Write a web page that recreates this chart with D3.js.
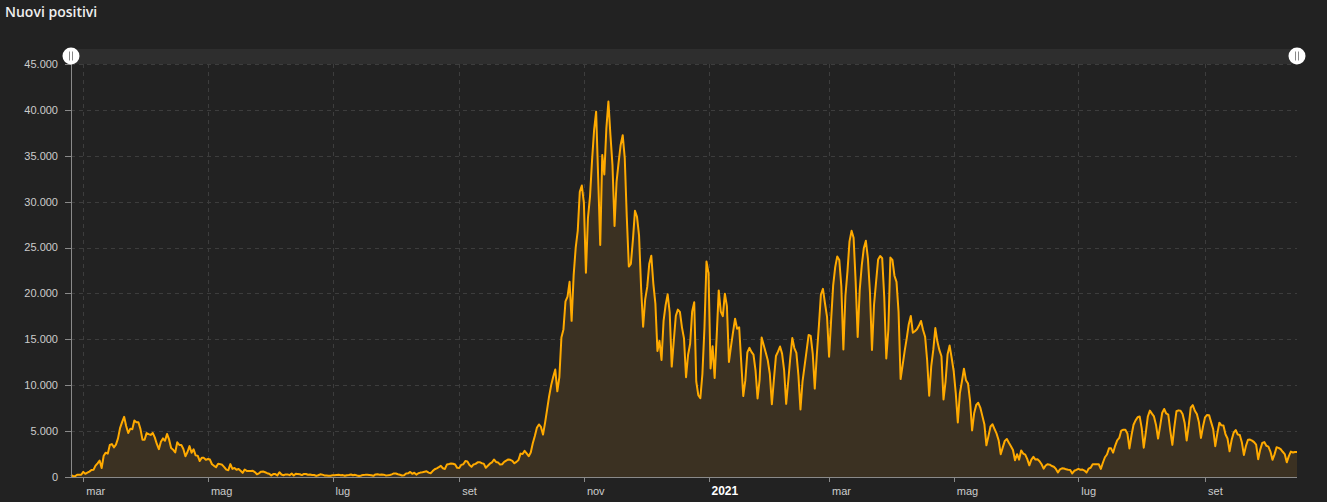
<!DOCTYPE html>
<html>
<head>
<meta charset="utf-8">
<script src="https://cdn.jsdelivr.net/npm/d3@7"></script>
<style>
html, body { margin: 0; padding: 0; background: #222222; }
svg { display: block; }
</style>
</head>
<body>
<svg id="chart" width="1327" height="502"></svg>
<script>
// daily "nuovi positivi", one array per month (first value = first day of the month)
var feb2020 = [221, 93, 78, 250, 238, 240]; // starts 24 feb
var mar2020 = [561, 347, 466, 587, 769, 778, 1247, 1492, 1797, 977, 2313, 2651, 2547, 3497, 3590, 3233, 3526, 4207, 5322, 5986, 6557, 5560, 4789, 5249, 5210, 6153, 5959, 5974, 5217, 4050, 4053];
var apr2020 = [4782, 4668, 4585, 4805, 4316, 3599, 3039, 3836, 4204, 3951, 4694, 4092, 3153, 2972, 2667, 3786, 3493, 3491, 3047, 2256, 2729, 3370, 2646, 3021, 2357, 2324, 1739, 2091, 2086, 1872];
var may2020 = [1965, 1900, 1389, 1221, 1075, 1444, 1401, 1327, 1083, 802, 744, 1402, 888, 992, 789, 875, 675, 451, 813, 665, 642, 652, 669, 531, 300, 397, 584, 593, 516, 416, 355];
var jun2020 = [178, 318, 321, 177, 518, 270, 197, 280, 283, 202, 379, 163, 346, 338, 301, 210, 329, 333, 251, 262, 224, 218, 122, 190, 296, 259, 175, 174, 126, 142];
var jul2020 = [187, 201, 223, 235, 192, 208, 138, 193, 229, 276, 188, 234, 169, 114, 162, 230, 233, 249, 219, 190, 129, 282, 306, 252, 275, 255, 170, 181, 212, 289, 386];
var aug2020 = [379, 295, 239, 159, 190, 384, 402, 552, 347, 463, 259, 412, 481, 523, 574, 629, 479, 403, 642, 845, 947, 1071, 1210, 953, 878, 1367, 1411, 1462, 1444, 1365, 996];
var sep2020 = [978, 1326, 1397, 1733, 1695, 1297, 1108, 1370, 1434, 1597, 1616, 1501, 1458, 1008, 1229, 1452, 1585, 1907, 1638, 1587, 1350, 1392, 1640, 1786, 1912, 1869, 1766, 1494, 1648, 1851];
var oct2020 = [2548, 2499, 2844, 2578, 2257, 2677, 3678, 4458, 5372, 5724, 5456, 4619, 5901, 7332, 8804, 10010, 10925, 11705, 9338, 10874, 15199, 16079, 19143, 19644, 21273, 17012, 21994, 24991, 26831, 31084, 31758];
var nov2020 = [29907, 22253, 28244, 30550, 34505, 37809, 39811, 32616, 25271, 35098, 32961, 37978, 40902, 37255, 33979, 27354, 32191, 34283, 36176, 37242, 34767, 28337, 22930, 23232, 25853, 29003, 28352, 26323, 20648, 16377];
var dec2020 = [19350, 20709, 23225, 24099, 21052, 18887, 13720, 14842, 12756, 16999, 18727, 19903, 17938, 12030, 14844, 17572, 18236, 17992, 16308, 15104, 10872, 13318, 14522, 18040, 19037, 10407, 8913, 8585, 11212, 16202, 23477];
var jan2021 = [22211, 11831, 14245, 10800, 15378, 20331, 18020, 17533, 19978, 18627, 12532, 14242, 15774, 17246, 16146, 16310, 12545, 8825, 10497, 13571, 14078, 13633, 13331, 11629, 8561, 10593, 15204, 14372, 13574, 12715, 11252];
var feb2021 = [7925, 10630, 13189, 13659, 14218, 13442, 11641, 7970, 10404, 12956, 15146, 14049, 13532, 11068, 7351, 10386, 12074, 13762, 15479, 15370, 13452, 9630, 13314, 16424, 19886, 20499, 18916, 17455];
var mar2021 = [13114, 17083, 20884, 22865, 24036, 23641, 20765, 13902, 19749, 22409, 25673, 26824, 26062, 21315, 15267, 20396, 23059, 24935, 25735, 23832, 20159, 13846, 18765, 21267, 23696, 24076, 23839, 19611, 12916, 16017, 23904];
var apr2021 = [23649, 21932, 21261, 18025, 10680, 12200, 13750, 15100, 16650, 17540, 15720, 15880, 16090, 16500, 17000, 16020, 15290, 12694, 8864, 12074, 13844, 16232, 14761, 13817, 13158, 8444, 10404, 13385, 14320, 12965];
var may2021 = [11500, 9148, 5948, 9116, 10404, 11807, 10554, 10176, 8292, 5080, 6946, 7852, 8085, 7567, 6659, 5753, 3455, 4452, 5506, 5741, 5218, 4717, 3995, 2490, 3224, 3937, 4147, 3738, 3351, 2949, 1820];
var jun2021 = [2483, 1896, 2897, 2557, 2436, 1951, 1273, 1896, 2199, 1901, 1925, 1723, 1390, 907, 1255, 1400, 1350, 1197, 1120, 880, 495, 835, 951, 927, 838, 794, 773, 389, 679, 776];
var jul2021 = [882, 794, 808, 700, 480, 907, 1010, 1394, 1390, 1400, 1391, 888, 1553, 2153, 2455, 3121, 3127, 2650, 3400, 4000, 4259, 5057, 5143, 5140, 4743, 3117, 4522, 5696, 6171, 6513, 6599];
var aug2021 = [5321, 3190, 4845, 6596, 7230, 6902, 6599, 5676, 4197, 5512, 6968, 7409, 6921, 6793, 5015, 3500, 5477, 7162, 7260, 7224, 6860, 5922, 3977, 5559, 7548, 7826, 7221, 6860, 5959, 4257, 5498];
var sep2021 = [6503, 6761, 6735, 5951, 5193, 3361, 4720, 5923, 5636, 5621, 4664, 4198, 2800, 4021, 4830, 5117, 4630, 4578, 3795, 2407, 3377, 4061, 4077, 3968, 3797, 3525, 1936, 2985, 3706, 3804];
var oct2021 = [3405, 3312, 2772, 1870, 2466, 3235, 3170, 3033, 2748, 2494, 1597, 2278, 2772, 2668, 2732, 2735];

var monthSeries = [
    ["2020-02-24", feb2020], ["2020-03-01", mar2020], ["2020-04-01", apr2020], ["2020-05-01", may2020],
    ["2020-06-01", jun2020], ["2020-07-01", jul2020], ["2020-08-01", aug2020], ["2020-09-01", sep2020],
    ["2020-10-01", oct2020], ["2020-11-01", nov2020], ["2020-12-01", dec2020], ["2021-01-01", jan2021],
    ["2021-02-01", feb2021], ["2021-03-01", mar2021], ["2021-04-01", apr2021], ["2021-05-01", may2021],
    ["2021-06-01", jun2021], ["2021-07-01", jul2021], ["2021-08-01", aug2021], ["2021-09-01", sep2021],
    ["2021-10-01", oct2021]
];

var yTicks = [0, 5000, 10000, 15000, 20000, 25000, 30000, 35000, 40000, 45000];
var xTickDates = ["2020-03-01", "2020-05-01", "2020-07-01", "2020-09-01", "2020-11-01",
                  "2021-01-01", "2021-03-01", "2021-05-01", "2021-07-01", "2021-09-01"];
var xTickLabels = ["mar", "mag", "lug", "set", "nov", "2021", "mar", "mag", "lug", "set"];

var width = 1327, height = 502;
var plotLeft = 71, plotRight = 1297, plotTop = 64, plotBottom = 477;

var svg = d3.select("#chart");
var parse = d3.timeParse("%Y-%m-%d");
var itFormat = d3.formatLocale({decimal: ",", thousands: ".", grouping: [3], currency: ["€", ""]}).format(",d");

var records = [];
monthSeries.forEach(function(m) {
    var d0 = parse(m[0]);
    m[1].forEach(function(v, i) {
        records.push({date: d3.timeDay.offset(d0, i), value: v});
    });
});

var xScale = d3.scaleTime()
    .domain(d3.extent(records, function(d) { return d.date; }))
    .range([plotLeft, plotRight]);

var yScale = d3.scaleLinear()
    .domain([0, 45000])
    .range([plotBottom, plotTop]);

svg.append("rect")
    .attr("width", width).attr("height", height)
    .attr("fill", "#222222");

// title
svg.append("text")
    .attr("x", 5).attr("y", 17)
    .style("font-family", "'Open Sans', 'Noto Sans', sans-serif")
    .style("font-weight", 600)
    .style("font-size", "14px")
    .attr("fill", "#eeeeee")
    .text("Nuovi positivi");

// navigator band on top
svg.append("rect")
    .attr("x", plotLeft).attr("y", 49)
    .attr("width", plotRight - plotLeft).attr("height", 15)
    .attr("fill", "#2e2e2e");

// grid
svg.append("g").selectAll("line")
    .data(yTicks.filter(function(t) { return t > 0; }))
    .enter().append("line")
    .attr("x1", plotLeft).attr("x2", plotRight)
    .attr("y1", function(d) { return Math.round(yScale(d)) + 0.5; })
    .attr("y2", function(d) { return Math.round(yScale(d)) + 0.5; })
    .attr("stroke", "#3d3d3d")
    .attr("stroke-dasharray", "4,4");

svg.append("g").selectAll("line")
    .data(xTickDates)
    .enter().append("line")
    .attr("x1", function(d) { return Math.round(xScale(parse(d))) + 0.5; })
    .attr("x2", function(d) { return Math.round(xScale(parse(d))) + 0.5; })
    .attr("y1", plotTop).attr("y2", plotBottom)
    .attr("stroke", "#3d3d3d")
    .attr("stroke-dasharray", "4,4");

// area + line
var area = d3.area()
    .x(function(d) { return xScale(d.date); })
    .y0(yScale(0))
    .y1(function(d) { return yScale(d.value); });

var line = d3.line()
    .x(function(d) { return xScale(d.date); })
    .y(function(d) { return yScale(d.value); });

svg.append("path")
    .datum(records)
    .attr("d", area)
    .attr("fill", "#3b3122");

svg.append("path")
    .datum(records)
    .attr("d", line)
    .attr("fill", "none")
    .attr("stroke", "#ffaa00")
    .attr("stroke-width", 2)
    .attr("stroke-linejoin", "round");

// y axis
svg.append("line")
    .attr("x1", plotLeft + 0.5).attr("x2", plotLeft + 0.5)
    .attr("y1", plotTop).attr("y2", plotBottom)
    .attr("stroke", "#8a8a8a");

var yAxis = svg.append("g");
yAxis.selectAll("line")
    .data(yTicks)
    .enter().append("line")
    .attr("x1", 65).attr("x2", plotLeft)
    .attr("y1", function(d) { return Math.round(yScale(d)) + 0.5; })
    .attr("y2", function(d) { return Math.round(yScale(d)) + 0.5; })
    .attr("stroke", "#8a8a8a");
yAxis.selectAll("text")
    .data(yTicks)
    .enter().append("text")
    .attr("x", 58)
    .attr("y", function(d) { return yScale(d); })
    .attr("dy", "0.35em")
    .attr("text-anchor", "end")
    .style("font-family", "'Liberation Sans', Arial, sans-serif")
    .style("font-size", "11px")
    .attr("fill", "#cccccc")
    .text(function(d) { return itFormat(d); });

// x axis
svg.append("line")
    .attr("x1", plotLeft).attr("x2", plotRight)
    .attr("y1", plotBottom + 0.5).attr("y2", plotBottom + 0.5)
    .attr("stroke", "#8a8a8a");

var xAxis = svg.append("g");
xAxis.selectAll("line")
    .data(xTickDates)
    .enter().append("line")
    .attr("x1", function(d) { return Math.round(xScale(parse(d))) + 0.5; })
    .attr("x2", function(d) { return Math.round(xScale(parse(d))) + 0.5; })
    .attr("y1", plotBottom).attr("y2", plotBottom + 5)
    .attr("stroke", "#8a8a8a");
xAxis.selectAll("text")
    .data(xTickDates)
    .enter().append("text")
    .attr("x", function(d) { return xScale(parse(d)) + 3; })
    .attr("y", 495)
    .style("font-family", "'Liberation Sans', Arial, sans-serif")
    .style("font-size", function(d, i) { return xTickLabels[i] === "2021" ? "12px" : "11px"; })
    .style("font-weight", function(d, i) { return xTickLabels[i] === "2021" ? "bold" : "normal"; })
    .attr("fill", function(d, i) { return xTickLabels[i] === "2021" ? "#ffffff" : "#cccccc"; })
    .text(function(d, i) { return xTickLabels[i]; });

// navigator handles
var handles = svg.append("g").selectAll("g")
    .data([plotLeft, plotRight])
    .enter().append("g")
    .attr("transform", function(d) { return "translate(" + d + ",56)"; });
handles.append("circle")
    .attr("r", 8.5)
    .attr("fill", "#ffffff");
handles.append("line")
    .attr("x1", -1.5).attr("x2", -1.5).attr("y1", -4.5).attr("y2", 4.5)
    .attr("stroke", "#888888");
handles.append("line")
    .attr("x1", 1.5).attr("x2", 1.5).attr("y1", -4.5).attr("y2", 4.5)
    .attr("stroke", "#888888");
</script>
</body>
</html>
